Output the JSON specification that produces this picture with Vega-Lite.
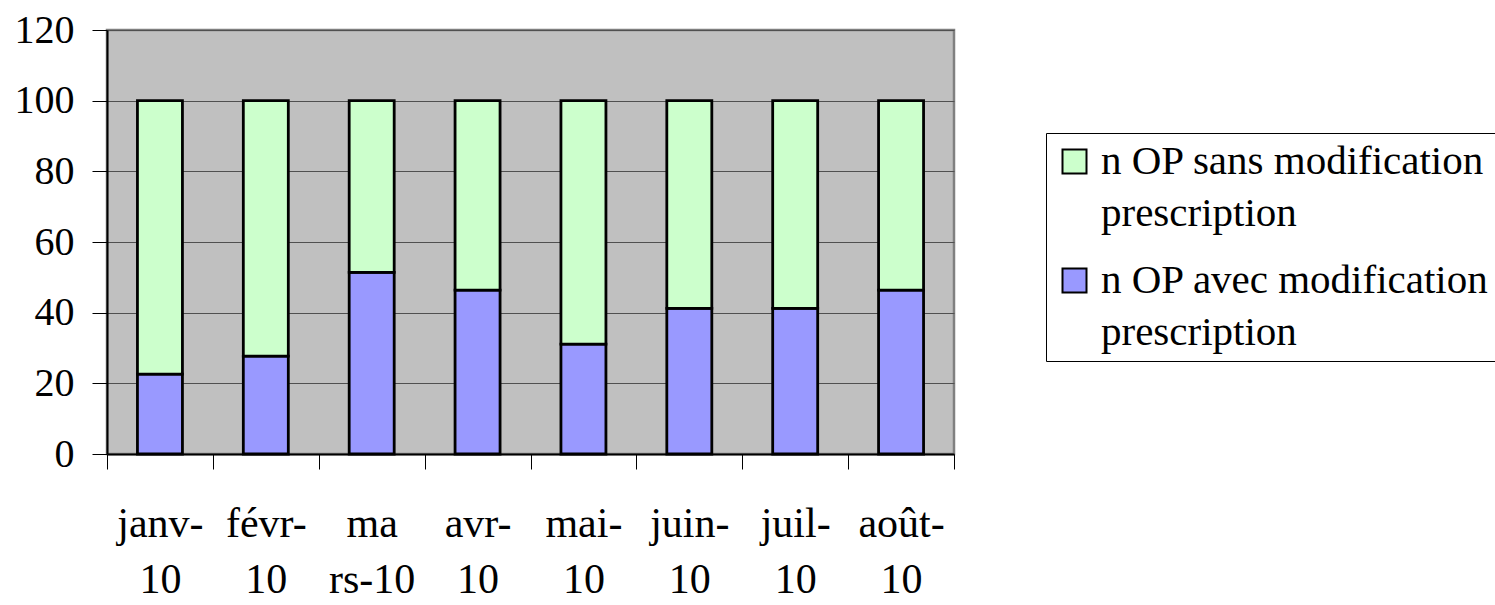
{
  "$schema": "https://vega.github.io/schema/vega-lite/v6.json",
  "width": 847,
  "height": 424,
  "autosize": {"type": "none"},
  "padding": {"left": 107, "top": 30, "right": 541, "bottom": 151},
  "background": "white",
  "config": {
    "font": "Liberation Serif",
    "view": {"fill": "#C0C0C0", "stroke": "#808080", "strokeWidth": 2.5},
    "style": {"guide-label": {"lineHeight": 52}}
  },
  "data": {
    "values": [
      {"mois": "janv-10", "serie": "n OP avec modification prescription", "valeur": 22.6},
      {"mois": "janv-10", "serie": "n OP sans modification prescription", "valeur": 77.4},
      {"mois": "févr-10", "serie": "n OP avec modification prescription", "valeur": 27.7},
      {"mois": "févr-10", "serie": "n OP sans modification prescription", "valeur": 72.3},
      {"mois": "mars-10", "serie": "n OP avec modification prescription", "valeur": 51.4},
      {"mois": "mars-10", "serie": "n OP sans modification prescription", "valeur": 48.6},
      {"mois": "avr-10", "serie": "n OP avec modification prescription", "valeur": 46.4},
      {"mois": "avr-10", "serie": "n OP sans modification prescription", "valeur": 53.6},
      {"mois": "mai-10", "serie": "n OP avec modification prescription", "valeur": 31.1},
      {"mois": "mai-10", "serie": "n OP sans modification prescription", "valeur": 68.9},
      {"mois": "juin-10", "serie": "n OP avec modification prescription", "valeur": 41.2},
      {"mois": "juin-10", "serie": "n OP sans modification prescription", "valeur": 58.8},
      {"mois": "juil-10", "serie": "n OP avec modification prescription", "valeur": 41.2},
      {"mois": "juil-10", "serie": "n OP sans modification prescription", "valeur": 58.8},
      {"mois": "août-10", "serie": "n OP avec modification prescription", "valeur": 46.4},
      {"mois": "août-10", "serie": "n OP sans modification prescription", "valeur": 53.6}
    ]
  },
  "mark": {"type": "bar", "stroke": "black", "strokeWidth": 2.8, "width": {"band": 0.425}},
  "encoding": {
    "x": {
      "field": "mois",
      "type": "nominal",
      "sort": null,
      "scale": {"paddingInner": 0, "paddingOuter": 0},
      "axis": {
        "title": null,
        "labelAngle": 0,
        "labelExpr": "!isValid(datum.label) || datum.label == '' ? '' : datum.label == 'mars-10' ? ['ma', 'rs-10'] : [slice(datum.label, 0, -2), '10']",
        "labelFontSize": 42,
        "labelColor": "black",
        "labelLineHeight": 56,
        "labelBaseline": "alphabetic",
        "labelPadding": 67,
        "tickBand": "extent",
        "tickSize": 15,
        "tickColor": "black",
        "tickWidth": 1,
        "domainColor": "black",
        "domainWidth": 2,
        "grid": false
      }
    },
    "y": {
      "field": "valeur",
      "type": "quantitative",
      "stack": "zero",
      "scale": {"domain": [0, 120], "nice": false},
      "axis": {
        "title": null,
        "values": [0, 20, 40, 60, 80, 100, 120],
        "labelFontSize": 40,
        "labelColor": "black",
        "labelPadding": 18,
        "tickSize": 15,
        "tickColor": "black",
        "domainColor": "black",
        "domainWidth": 2,
        "gridColor": "#505050",
        "gridOpacity": 1,
        "gridWidth": 1
      }
    },
    "color": {
      "field": "serie",
      "type": "nominal",
      "scale": {
        "domain": ["n OP sans modification prescription", "n OP avec modification prescription"],
        "range": ["#CCFFCC", "#9999FF"]
      },
      "legend": {
        "title": null,
        "orient": "none",
        "legendX": 939,
        "legendY": 103,
        "fillColor": "white",
        "strokeColor": "black",
        "padding": 8,
        "symbolType": "square",
        "symbolSize": 576,
        "symbolStrokeColor": "black",
        "symbolStrokeWidth": 2,
        "symbolOpacity": 1,
        "labelFontSize": 41,
        "labelColor": "black",
        "labelLimit": 0,
        "labelOffset": 6,
        "rowPadding": 25,
        "labelExpr": "[slice(datum.label, 0, -13), 'prescription']"
      }
    },
    "order": {"field": "serie", "sort": "ascending"}
  }
}
